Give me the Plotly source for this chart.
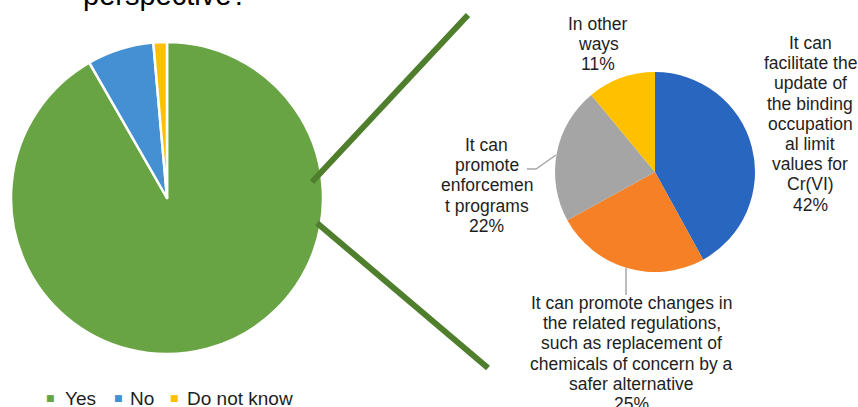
import plotly.graph_objects as go

# ---------------- data ----------------
main_labels = ["Yes", "No", "Do not know"]
main_values = [91.7, 6.9, 1.4]
main_colors = ["#69A444", "#4490D3", "#FFC000"]

sub_labels = [
    ["It can", "facilitate the", "update of", "the binding", "occupation", "al limit", "values for", "Cr(VI)"],
    ["It can promote changes in", "the related regulations,", "such as replacement of",
     "chemicals of concern by a", "safer alternative"],
    ["It can", "promote", "enforcemen", "t programs"],
    ["In other", "ways"],
]
sub_values = [42, 25, 22, 11]
sub_colors = ["#2966BF", "#F58025", "#A5A5A5", "#FFC000"]

title_text = "perspective?"

W, H = 858, 407
FONT = "Liberation Sans, Arial, sans-serif"
TXT = "#1E1E1E"


def px(x):
    return x / W


def py(y):
    return 1 - y / H


fig = go.Figure()

# left (main) pie: center (167,198), r=156
fig.add_trace(go.Pie(
    labels=main_labels, values=main_values, sort=False, direction="clockwise", rotation=0,
    marker=dict(colors=main_colors, line=dict(color="white", width=2.5)),
    textinfo="none", hoverinfo="label+percent",
    domain=dict(x=[px(167 - 156), px(167 + 156)], y=[py(198 + 156), py(198 - 156)]),
    showlegend=False,
))

# right (breakdown) pie: center (655,172), r=100
fig.add_trace(go.Pie(
    labels=[" ".join(l) for l in sub_labels], values=sub_values, sort=False,
    direction="clockwise", rotation=0,
    marker=dict(colors=sub_colors, line=dict(color="white", width=0)),
    textinfo="none", hoverinfo="label+percent",
    domain=dict(x=[px(655 - 100), px(655 + 100)], y=[py(172 + 100), py(172 - 100)]),
    showlegend=False,
))

annotations = []
shapes = []

# title (cut off at top)
annotations.append(dict(text=title_text, x=px(165), y=py(-5), xref="paper", yref="paper",
                        xanchor="center", yanchor="middle", showarrow=False,
                        font=dict(family=FONT, size=29, color="#000000")))

# sub-pie labels, line by line
label_pos = [  # (center x, first-line center y)
    (810, 43),
    (631.5, 303),
    (486.5, 145),
    (598, 24),
]
for lines, val, (cx, y0) in zip(sub_labels, sub_values, label_pos):
    all_lines = lines + [f"{val}%"]
    for i, t in enumerate(all_lines):
        annotations.append(dict(text=t, x=px(cx), y=py(y0 + i * 20.2), xref="paper", yref="paper",
                                xanchor="center", yanchor="middle", showarrow=False,
                                font=dict(family=FONT, size=17.5, color=TXT)))

# leader lines
shapes.append(dict(type="path", xref="paper", yref="paper",
                   path=f"M{px(527)},{py(169)} L{px(536)},{py(169)} L{px(556)},{py(155)}",
                   line=dict(color="#A6A6A6", width=1.5)))
shapes.append(dict(type="line", xref="paper", yref="paper",
                   x0=px(626), y0=py(268), x1=px(626), y1=py(295),
                   line=dict(color="#A6A6A6", width=1.5)))

# connector lines
for (x0, y0, x1, y1) in [(312, 182, 468, 15), (317, 223, 488, 368)]:
    shapes.append(dict(type="line", xref="paper", yref="paper",
                       x0=px(x0), y0=py(y0), x1=px(x1), y1=py(y1),
                       line=dict(color="#4F7F2D", width=6)))

# manual legend
leg_marker_x = [50, 118, 174]
leg_text_x = [63, 128, 185]
for lab, col, mx, tx in zip(main_labels, main_colors, leg_marker_x, leg_text_x):
    annotations.append(dict(text="■", x=px(mx), y=py(398), xref="paper", yref="paper",
                            xanchor="center", yanchor="middle", showarrow=False,
                            font=dict(family="DejaVu Sans", size=9, color=col)))
    annotations.append(dict(text=lab, x=px(tx), y=py(398), xref="paper", yref="paper",
                            xanchor="left", yanchor="middle", showarrow=False,
                            font=dict(family=FONT, size=19, color=TXT)))

fig.update_layout(
    width=W, height=H, margin=dict(l=0, r=0, t=0, b=0),
    paper_bgcolor="white", plot_bgcolor="white",
    annotations=annotations, shapes=shapes, showlegend=False,
)

fig.write_html("out.html")
